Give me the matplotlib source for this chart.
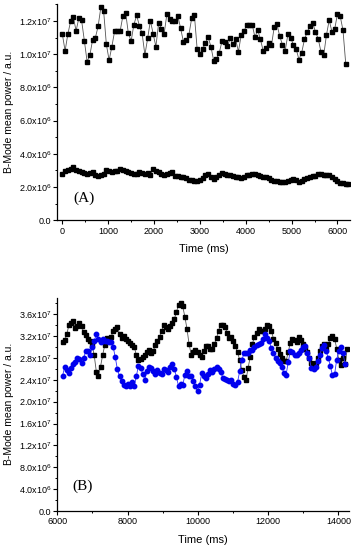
import matplotlib
matplotlib.use('Agg')
import matplotlib.pyplot as plt
from matplotlib.ticker import MultipleLocator, FuncFormatter
import numpy as np

plt.rcParams['font.family'] = ['Liberation Sans', 'DejaVu Sans']
plt.rcParams['mathtext.fontset'] = 'custom'
plt.rcParams['mathtext.rm'] = 'Liberation Sans'
plt.rcParams['mathtext.it'] = 'Liberation Sans'

# ---- panel A data (values in units of 1e6) ----
dt_a = 60.0  # ms between frames
a_high = [11.21, 10.20, 11.21, 11.98, 12.22, 11.41, 12.18, 12.04, 10.81, 9.56,
          9.94, 10.87, 10.99, 11.68, 12.83, 12.61, 10.59, 9.64, 10.46, 11.39,
          11.39, 11.39, 12.30, 12.51, 11.25, 10.79, 11.78, 12.34, 11.72, 11.25,
          9.96, 10.95, 12.02, 11.23, 10.46, 11.88, 11.54, 11.23, 12.42, 12.14,
          12.00, 12.00, 12.28, 11.56, 10.75, 10.85, 11.17, 12.16, 12.36, 10.30,
          10.02, 10.32, 10.67, 11.03, 10.46, 9.62, 9.72, 10.06, 10.77, 10.71,
          10.48, 10.95, 10.63, 10.89, 10.16, 11.15, 11.39, 11.74, 11.74, 11.78,
          11.03, 11.47, 10.89, 10.20, 10.40, 10.65, 10.53, 11.62, 11.80, 11.09,
          10.57, 10.22, 11.21, 10.99, 10.55, 10.30, 9.68, 10.10, 10.89, 11.35,
          11.68, 11.88, 11.35, 10.93, 10.14, 9.94, 11.17, 12.06, 11.33, 11.52,
          12.44, 12.28, 11.45, 9.43]
a_low = [2.80, 2.95, 3.05, 3.10, 3.22, 3.02, 2.95, 2.88, 2.82, 2.76,
         2.82, 2.90, 2.70, 2.68, 2.75, 2.80, 3.05, 2.98, 2.93, 2.96,
         2.98, 3.10, 3.00, 2.94, 2.88, 2.84, 2.80, 2.78, 2.90, 2.85,
         2.78, 2.82, 2.74, 3.08, 2.98, 2.90, 2.76, 2.70, 2.80, 2.86,
         2.92, 2.68, 2.64, 2.62, 2.60, 2.52, 2.45, 2.40, 2.36, 2.34,
         2.45, 2.55, 2.70, 2.80, 2.60, 2.50, 2.58, 2.72, 2.82, 2.78,
         2.70, 2.74, 2.65, 2.62, 2.58, 2.55, 2.62, 2.70, 2.74, 2.76,
         2.78, 2.72, 2.66, 2.62, 2.58, 2.52, 2.42, 2.38, 2.34, 2.30,
         2.28, 2.30, 2.34, 2.42, 2.50, 2.40, 2.30, 2.38, 2.46, 2.55,
         2.60, 2.64, 2.66, 2.80, 2.76, 2.74, 2.72, 2.70, 2.62, 2.50,
         2.36, 2.26, 2.22, 2.21, 2.20]

# ---- panel B data (values in units of 1e6) ----
t0_b = 6150.0
dt_b = 60.0
b_black = [30.9, 31.2, 32.3, 34.0, 34.4, 34.7, 33.5, 33.9, 34.3, 33.8,
           32.7, 32.1, 31.4, 31.0, 30.3, 28.5, 25.5, 24.6, 26.4, 28.5,
           30.3, 31.7, 31.4, 31.8, 32.9, 33.3, 33.6, 32.4, 31.6, 32.0,
           31.4, 31.1, 30.8, 30.3, 30.0, 28.5, 27.7, 27.8, 28.2, 28.5,
           29.1, 29.4, 28.9, 29.3, 30.3, 31.1, 31.9, 32.9, 34.1, 33.6,
           33.2, 33.9, 34.4, 35.1, 36.4, 37.7, 38.0, 37.4, 35.5, 33.3,
           30.5, 28.6, 29.0, 29.4, 29.0, 28.5, 28.2, 29.3, 30.1, 30.1,
           29.7, 29.6, 30.5, 31.6, 33.0, 34.1, 34.0, 33.7, 32.6, 31.6,
           31.8, 31.0, 30.1, 29.0, 27.6, 25.8, 24.5, 24.0, 26.2, 28.2,
           30.6, 31.8, 32.6, 33.3, 33.0, 32.9, 33.3, 34.0, 33.9, 33.0,
           31.5, 30.8, 29.7, 28.7, 27.9, 27.5, 27.4, 29.1, 30.7, 31.5,
           31.2, 30.9, 31.8, 31.2, 30.5, 29.7, 29.1, 27.9, 27.1, 26.7,
           27.0, 27.9, 29.3, 30.1, 30.6, 29.7, 30.5, 31.6, 32.0, 31.5,
           29.7, 27.6, 26.7, 27.9, 26.8, 29.7]
b_blue = [24.7, 26.4, 25.8, 25.3, 26.1, 26.9, 27.3, 28.0, 27.8, 27.0,
          28.0, 29.3, 29.2, 28.5, 29.9, 31.0, 32.4, 31.4, 30.9, 31.5,
          31.0, 31.1, 30.9, 30.9, 30.0, 28.1, 25.9, 24.6, 23.7, 23.1,
          22.9, 23.3, 22.9, 23.6, 22.9, 24.7, 26.6, 26.2, 25.1, 24.0,
          25.6, 26.3, 26.2, 25.6, 25.1, 25.8, 25.2, 25.1, 26.0, 25.8,
          25.4, 26.4, 26.9, 26.0, 24.5, 22.8, 23.3, 23.0, 24.9, 25.6,
          24.6, 24.7, 23.7, 22.8, 21.9, 23.1, 25.2, 24.7, 24.3, 25.0,
          25.7, 25.5, 26.0, 26.3, 26.0, 25.5, 24.3, 24.1, 24.0, 23.7,
          23.9, 23.2, 23.1, 23.6, 25.6, 27.6, 28.8, 28.8, 28.8, 29.4,
          29.4, 30.0, 30.3, 30.6, 30.7, 31.4, 32.3, 31.6, 31.1, 29.8,
          28.8, 28.0, 27.5, 27.0, 26.3, 25.2, 24.9, 27.2, 29.2, 29.0,
          28.6, 28.5, 28.8, 29.5, 30.0, 30.1, 28.9, 27.9, 26.1, 25.9,
          26.4, 27.5, 28.6, 29.8, 30.3, 29.2, 28.0, 26.5, 24.8, 25.0,
          27.7, 29.3, 29.9, 28.8, 26.8]

t_a = np.arange(len(a_high)) * dt_a
t_a2 = np.arange(len(a_low)) * dt_a
t_bk = t0_b + np.arange(len(b_black)) * dt_b
t_bl = t0_b + np.arange(len(b_blue)) * dt_b


def sci_fmt(v, pos):
    if v == 0:
        return '0.0'
    e = int(np.floor(np.log10(abs(v)) + 1e-9))
    m = v / 10 ** e
    return r'$%.1f\mathrm{x}10^{%d}$' % (m, e)


def style(ax):
    ax.spines['top'].set_visible(False)
    ax.spines['right'].set_visible(False)
    ax.spines['left'].set_linewidth(0.9)
    ax.spines['bottom'].set_linewidth(0.9)
    ax.tick_params(which='major', direction='out', length=3, width=0.8, labelsize=6.5, pad=1.5)
    ax.tick_params(which='minor', direction='out', length=1.6, width=0.7)
    ax.yaxis.set_major_formatter(FuncFormatter(sci_fmt))


fig = plt.figure(figsize=(3.57, 5.5), dpi=100)

# panel A
ax1 = fig.add_axes([0.1605, 0.5995, 0.8195, 0.3925])
ax1.plot(t_a, np.array(a_high) * 1e6, color='#555555', linewidth=0.6,
         marker='s', markersize=3.0, markerfacecolor='black', markeredgecolor='black')
ax1.plot(t_a2, np.array(a_low) * 1e6, color='#555555', linewidth=0.6,
         marker='s', markersize=3.0, markerfacecolor='black', markeredgecolor='black')
ax1.set_xlim(-110, 6270)
ax1.set_ylim(0, 1.3e7)
ax1.xaxis.set_major_locator(MultipleLocator(1000))
ax1.xaxis.set_minor_locator(MultipleLocator(500))
ax1.yaxis.set_major_locator(MultipleLocator(2e6))
ax1.yaxis.set_minor_locator(MultipleLocator(1e6))
style(ax1)
ax1.set_xlabel('Time (ms)', fontsize=8, labelpad=6)
ax1.set_ylabel('B-Mode mean power / a.u.', fontsize=7.5, labelpad=3)
ax1.text(0.091, 0.103, '(A)', transform=ax1.transAxes, fontsize=11,
         family='Liberation Serif', ha='center', va='center')

# panel B
ax2 = fig.add_axes([0.1605, 0.0709, 0.8171, 0.3878])
ax2.plot(t_bk, np.array(b_black) * 1e6, color='#555555', linewidth=0.6,
         marker='s', markersize=2.8, markerfacecolor='black', markeredgecolor='black')
ax2.plot(t_bl, np.array(b_blue) * 1e6, color='#3030ff', linewidth=0.6,
         marker='o', markersize=3.2, markerfacecolor='#0000ee', markeredgecolor='#0000ee')
ax2.set_xlim(6000, 14300)
ax2.set_ylim(0, 3.9e7)
ax2.xaxis.set_major_locator(MultipleLocator(2000))
ax2.xaxis.set_minor_locator(MultipleLocator(1000))
ax2.yaxis.set_major_locator(MultipleLocator(4e6))
ax2.yaxis.set_minor_locator(MultipleLocator(2e6))
style(ax2)
ax2.set_xlabel('Time (ms)', fontsize=8, labelpad=6)
ax2.set_ylabel('B-Mode mean power / a.u.', fontsize=7.5, labelpad=3)
ax2.text(0.087, 0.117, '(B)', transform=ax2.transAxes, fontsize=11,
         family='Liberation Serif', ha='center', va='center')

fig.savefig('out.png', dpi=100)
